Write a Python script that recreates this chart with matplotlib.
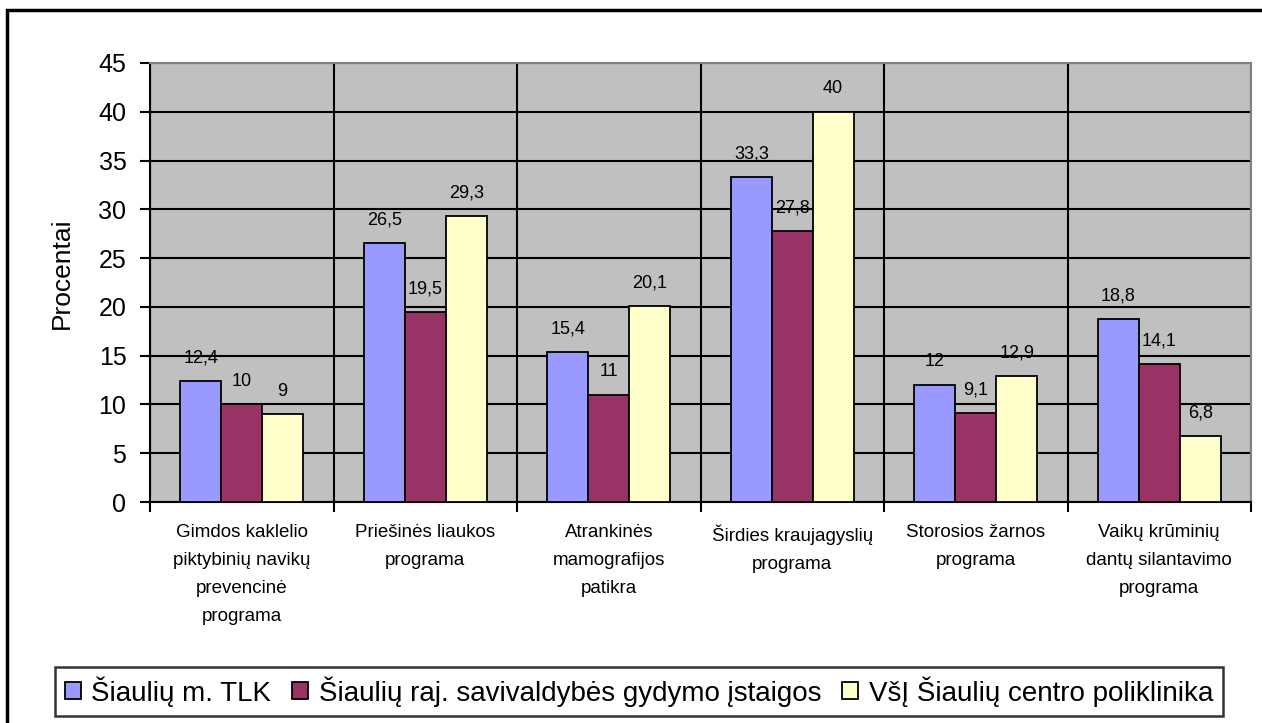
import numpy as np
import matplotlib.pyplot as plt
from matplotlib.patches import Rectangle

plt.rcParams['font.family'] = ['Liberation Sans', 'DejaVu Sans']

categories = ["Gimdos kaklelio\npiktybinių navikų\nprevencinė\nprograma",
              "Priešinės liaukos\nprograma",
              "Atrankinės\nmamografijos\npatikra",
              "Širdies kraujagyslių\nprograma",
              "Storosios žarnos\nprograma",
              "Vaikų krūminių\ndantų silantavimo\nprograma"]
series_names = ["Šiaulių m. TLK", "Šiaulių raj. savivaldybės gydymo įstaigos",
                "VšĮ Šiaulių centro poliklinika"]
tlk = [12.4, 26.5, 15.4, 33.3, 12, 18.8]
raj = [10, 19.5, 11, 27.8, 9.1, 14.1]
vsi = [9, 29.3, 20.1, 40, 12.9, 6.8]
colors = ["#9999FF", "#993366", "#FFFFCC"]

fig = plt.figure(figsize=(12.62, 7.23), dpi=100)
ax = fig.add_axes([150/1262, 221/723, 1101/1262, 439/723])
ax.set_facecolor("#C0C0C0")

x = np.arange(len(categories))
w = 0.223
for i, (vals, c, name) in enumerate(zip([tlk, raj, vsi], colors, series_names)):
    pos = x + (i - 1) * w
    ax.bar(pos, vals, w, color=c, edgecolor="black", linewidth=1.3, label=name, zorder=3)
    for p, v in zip(pos, vals):
        txt = ("%g" % v).replace(".", ",")
        ax.text(p, v + 1.9, txt, ha="center", va="baseline", fontsize=13, zorder=4)

ax.set_xlim(-0.5, len(categories) - 0.5)
ax.set_ylim(0, 45)
ax.set_yticks(np.arange(0, 46, 5))
ax.tick_params(axis="y", labelsize=18, length=7, width=1.5, direction="out", pad=10)
ax.set_xticks(x)
ax.set_xticklabels(categories, fontsize=13.5, linespacing=1.85, va="top")
ax.tick_params(axis="x", which="major", length=0, pad=16)
ax.set_xticks(np.arange(-0.5, len(categories)), minor=True)
ax.tick_params(axis="x", which="minor", length=7, width=1.5, direction="out")
ax.grid(axis="y", color="black", linewidth=1.5, zorder=1)
ax.grid(axis="x", which="minor", color="black", linewidth=1.5, zorder=1)
ax.set_axisbelow(True)
ax.set_ylabel("Procentai", fontsize=19, va="center")
ax.yaxis.set_label_coords(-0.08, 0.52)

for s in ["top", "right"]:
    ax.spines[s].set_color("#808080")
    ax.spines[s].set_linewidth(1.5)
for s in ["left", "bottom"]:
    ax.spines[s].set_linewidth(1.5)

leg = fig.legend(loc="center", bbox_to_anchor=(639/1262, 31.5/723), ncol=3,
                 fontsize=20, frameon=True, fancybox=False, edgecolor="black",
                 handlelength=0.57, handleheight=0.57, handletextpad=0.38,
                 columnspacing=0.76, borderpad=0.35, borderaxespad=0)
leg.get_frame().set_linewidth(1.8)
for h in leg.legend_handles:
    h.set_linewidth(1.3)

fig.patches.append(Rectangle((7/1262, -0.01), 1.02, (723 - 10)/723 + 0.01,
                             transform=fig.transFigure, fill=False,
                             edgecolor="black", linewidth=2.5))

fig.savefig("out.png", dpi=100)
